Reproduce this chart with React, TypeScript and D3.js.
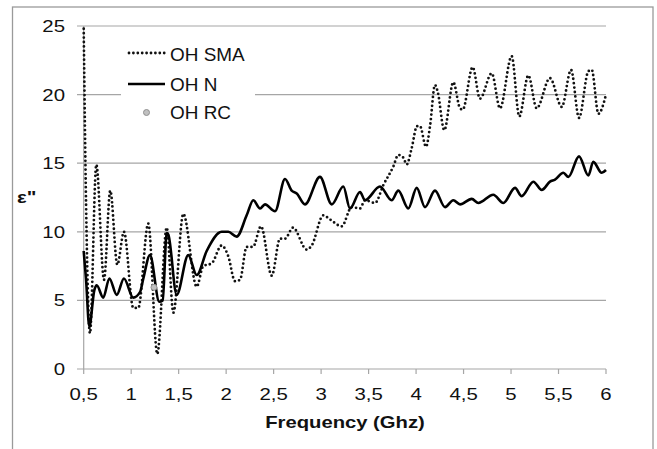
import React from "react";
import * as d3 from "d3";

const X_TICKS = [0.5, 1, 1.5, 2, 2.5, 3, 3.5, 4, 4.5, 5, 5.5, 6];
const X_TICK_LABELS = ["0,5", "1", "1,5", "2", "2,5", "3", "3,5", "4", "4,5", "5", "5,5", "6"];
const Y_TICKS = [0, 5, 10, 15, 20, 25];

const SMA_FREQ = [0.5, 0.525, 0.566, 0.633, 0.714, 0.78, 0.854, 0.924, 1.022, 1.075, 1.18, 1.275, 1.374, 1.444, 1.549, 1.69, 1.759, 1.848, 1.953, 2.023, 2.093, 2.146, 2.216, 2.283, 2.367, 2.48, 2.567, 2.62, 2.704, 2.848, 2.901, 3.023, 3.094, 3.217, 3.322, 3.41, 3.462, 3.568, 3.655, 3.76, 3.813, 3.866, 3.901, 3.954, 4.01, 4.041, 4.105, 4.147, 4.199, 4.228, 4.297, 4.392, 4.463, 4.491, 4.596, 4.673, 4.797, 4.884, 5.007, 5.087, 5.182, 5.27, 5.41, 5.534, 5.632, 5.716, 5.814, 5.85, 5.92, 6.0];
const SMA_VALUES = [24.8, 12, 2.6, 14.9, 6.5, 13.0, 7.6, 10.0, 4.45, 4.45, 10.6, 1.1, 10.3, 4.1, 11.3, 6.0, 7.5, 7.7, 9.0, 8.2, 6.4, 6.5, 8.9, 8.9, 10.4, 6.8, 9.5, 9.5, 10.3, 8.7, 9.0, 11.2, 10.9, 10.4, 11.8, 11.7, 12.3, 12.1, 13.4, 14.75, 15.6, 15.4, 14.9, 16.1, 17.7, 17.7, 16.2, 17.7, 20.7, 20.2, 17.4, 20.9, 19.0, 18.9, 22.0, 19.7, 21.55, 19.0, 22.8, 18.4, 21.4, 19.0, 21.2, 19.1, 21.8, 18.3, 21.7, 21.8, 18.6, 20.0];

const N_FREQ = [0.5, 0.524, 0.559, 0.612, 0.637, 0.706, 0.77, 0.848, 0.924, 1.022, 1.093, 1.128, 1.198, 1.296, 1.332, 1.374, 1.391, 1.479, 1.601, 1.69, 1.795, 1.953, 2.023, 2.111, 2.216, 2.286, 2.357, 2.409, 2.515, 2.62, 2.69, 2.743, 2.83, 2.988, 3.112, 3.234, 3.304, 3.41, 3.462, 3.62, 3.743, 3.813, 3.918, 4.007, 4.094, 4.199, 4.305, 4.392, 4.463, 4.586, 4.656, 4.813, 4.919, 5.042, 5.112, 5.235, 5.323, 5.41, 5.463, 5.551, 5.604, 5.716, 5.814, 5.866, 5.955, 6.0];
const N_VALUES = [8.6, 6.6, 3.1, 5.75, 6.1, 5.2, 6.6, 5.4, 6.6, 5.2, 5.6, 6.6, 8.3, 4.9, 5.0, 9.9, 9.8, 5.4, 8.3, 6.85, 8.6, 10.0, 10.0, 9.65, 11.2, 12.3, 11.7, 12.0, 11.5, 13.85, 13.0, 12.8, 12.0, 14.0, 12.0, 13.3, 11.7, 12.9, 12.3, 13.3, 12.3, 13.0, 11.7, 13.2, 11.8, 13.0, 11.8, 12.3, 12.0, 12.4, 12.1, 12.7, 12.1, 13.2, 12.6, 13.65, 13.05, 13.65, 13.8, 14.3, 14.0, 15.5, 14.1, 15.1, 14.3, 14.5];

const RC_FREQ = [1.24];
const RC_VALUES = [5.95];

const SERIES_NAMES = ["OH SMA", "OH N", "OH RC"];

const FONT = "'Liberation Sans', Arial, sans-serif";

function SText({ x, y, sx, anchor, size, weight, children }: any) {
  return (
    <text
      transform={`translate(${x},${y}) scale(${sx},1)`}
      textAnchor={anchor || "start"}
      fontSize={size}
      fontWeight={weight || "normal"}
      fill="#111"
    >
      {children}
    </text>
  );
}

export default function App() {
  const x = d3.scaleLinear().domain([0.5, 6]).range([83.7, 606]);
  const y = d3.scaleLinear().domain([0, 25]).range([369, 26]);

  const line = d3
    .line<[number, number]>()
    .x((d) => x(d[0]))
    .y((d) => y(d[1]))
    .curve(d3.curveMonotoneX);

  const smaData: [number, number][] = SMA_FREQ.map((f, i) => [f, SMA_VALUES[i]]);
  const nData: [number, number][] = N_FREQ.map((f, i) => [f, N_VALUES[i]]);
  const rcData: [number, number][] = RC_FREQ.map((f, i) => [f, RC_VALUES[i]]);

  const grid = "#a6a6a6";

  return (
    <svg
      width={657}
      height={449}
      style={{ position: "absolute", left: 0, top: 0, background: "#fff" }}
      fontFamily={FONT}
    >
      <rect x={0} y={0} width={657} height={449} fill="#fff" />
      <rect x={12.5} y={7} width={640.5} height={460} fill="none" stroke="#9a9a9a" strokeWidth={1.3} />

      {Y_TICKS.map((t) => (
        <g key={t}>
          {t > 0 && (
            <line x1={77} x2={606} y1={y(t)} y2={y(t)} stroke={grid} strokeWidth={1.2} />
          )}
          <SText x={65} y={y(t) + 6} sx={1.2} anchor="end" size={17}>
            {t}
          </SText>
        </g>
      ))}
      {/* axes */}
      <line x1={x(0.5)} x2={x(0.5)} y1={y(25)} y2={y(0)} stroke={grid} strokeWidth={1.2} />
      <line x1={77} x2={606} y1={y(0)} y2={y(0)} stroke={grid} strokeWidth={1.2} />
      {X_TICKS.map((t, i) => (
        <g key={t}>
          <line x1={x(t)} x2={x(t)} y1={y(0)} y2={y(0) + 5} stroke={grid} strokeWidth={1.2} />
          <SText x={x(t)} y={y(0) + 31} sx={1.2} anchor="middle" size={17}>
            {X_TICK_LABELS[i]}
          </SText>
        </g>
      ))}

      {/* series */}
      <path
        d={line(smaData) || ""}
        fill="none"
        stroke="#111"
        strokeWidth={2.8}
        strokeLinecap="round"
        strokeDasharray="0 4.4"
      />
      <path d={line(nData) || ""} fill="none" stroke="#000" strokeWidth={2.6} strokeLinejoin="round" />
      {rcData.map((d, i) => (
        <circle key={i} cx={x(d[0])} cy={y(d[1])} r={3} fill="#c0c0c0" stroke="#909090" strokeWidth={1} />
      ))}

      {/* legend */}
      <rect x={121} y={36} width={134} height={90} fill="#fff" />
      <line x1={129} x2={165} y1={53} y2={53} stroke="#111" strokeWidth={2.8} strokeLinecap="round" strokeDasharray="0 4.4" />
      <SText x={170} y={61} sx={1.07} size={17.7}>{SERIES_NAMES[0]}</SText>
      <line x1={128} x2={165} y1={84} y2={84} stroke="#000" strokeWidth={2.6} />
      <SText x={170} y={91} sx={1.07} size={17.7}>{SERIES_NAMES[1]}</SText>
      <circle cx={146.5} cy={112.5} r={3} fill="#c0c0c0" stroke="#909090" strokeWidth={1} />
      <SText x={170} y={119} sx={1.07} size={17.7}>{SERIES_NAMES[2]}</SText>

      {/* axis titles */}
      <SText x={345} y={428} sx={1.19} anchor="middle" size={17} weight="bold">
        Frequency (Ghz)
      </SText>
      <SText x={17} y={203} sx={1.2} size={17} weight="bold">
        ε"
      </SText>
    </svg>
  );
}
